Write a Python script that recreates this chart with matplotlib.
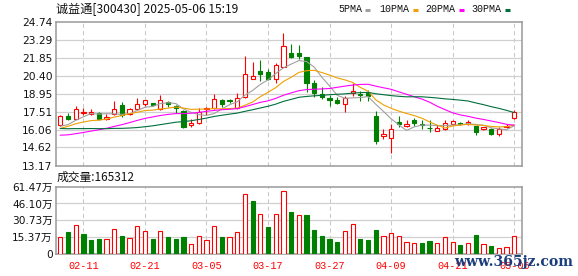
import matplotlib
matplotlib.use('Agg')
import matplotlib.pyplot as plt
from matplotlib.lines import Line2D
import numpy as np
import pandas as pd

# ---------------- data ----------------
dates = ['02-06', '02-07', '02-10', '02-11', '02-12', '02-13', '02-14', '02-17', '02-18', '02-19',
         '02-20', '02-21', '02-24', '02-25', '02-26', '02-27', '02-28', '03-03', '03-04', '03-05',
         '03-06', '03-07', '03-10', '03-11', '03-12', '03-13', '03-14', '03-17', '03-18', '03-19',
         '03-20', '03-21', '03-24', '03-25', '03-26', '03-27', '03-28', '03-31', '04-01', '04-02',
         '04-03', '04-07', '04-08', '04-09', '04-10', '04-11', '04-14', '04-15', '04-16', '04-17',
         '04-18', '04-21', '04-22', '04-23', '04-24', '04-25', '04-28', '04-29', '04-30', '05-06']

opens = [16.46, 17.19, 16.94, 17.40, 17.35, 17.43, 16.94, 17.35, 18.07, 17.35,
         17.75, 18.15, 18.18, 17.75, 18.26, 17.99, 17.54, 16.41, 16.59, 17.70,
         17.83, 18.42, 18.45, 17.83, 18.69, 20.14, 20.79, 20.71, 20.12, 21.11,
         22.19, 22.19, 21.87, 19.82, 18.91, 18.59, 18.43, 18.10, 18.97, 18.95,
         18.98, 17.18, 15.53, 15.40, 16.68, 16.36, 16.87, 16.50, 16.20, 15.98,
         16.07, 16.49, 16.62, 16.49, 16.33, 16.12, 16.07, 15.74, 16.23, 17.00]
highs = [17.20, 17.40, 17.94, 17.81, 17.70, 17.48, 17.32, 18.34, 18.29, 17.83,
         18.64, 18.48, 18.23, 18.88, 18.37, 18.07, 17.62, 16.94, 17.83, 17.89,
         18.96, 18.50, 18.56, 19.01, 21.97, 21.49, 21.65, 20.90, 21.41, 23.80,
         22.94, 22.86, 21.90, 20.04, 19.45, 18.83, 18.69, 18.77, 19.77, 19.18,
         19.23, 17.54, 16.11, 16.49, 17.14, 16.82, 17.00, 16.87, 16.87, 16.41,
         16.87, 16.82, 16.65, 16.87, 16.33, 16.25, 16.20, 16.23, 16.47, 17.62]
lows = [16.38, 16.81, 16.89, 17.21, 17.24, 16.86, 16.86, 17.27, 17.11, 17.27,
        17.67, 17.94, 17.99, 17.67, 17.89, 17.40, 16.22, 16.27, 16.54, 17.21,
        17.75, 17.89, 18.21, 17.75, 18.64, 20.09, 19.95, 20.04, 19.77, 21.06,
        21.79, 21.71, 19.10, 18.69, 18.56, 17.94, 18.10, 17.48, 18.75, 18.37,
        18.37, 14.94, 15.34, 14.21, 16.28, 16.23, 16.33, 16.07, 15.88, 15.93,
        16.01, 16.41, 16.41, 16.44, 15.61, 16.00, 15.61, 15.53, 16.20, 16.95]
closes = [17.13, 16.94, 17.75, 17.48, 17.45, 16.92, 17.08, 17.70, 17.27, 17.75,
          18.15, 18.40, 18.05, 18.40, 18.10, 17.83, 16.27, 16.62, 17.48, 17.81,
          18.56, 18.10, 18.37, 18.64, 20.52, 20.41, 20.57, 20.14, 21.22, 22.78,
          21.92, 22.00, 19.77, 18.97, 18.69, 18.43, 18.21, 18.59, 19.13, 18.85,
          18.80, 15.12, 15.74, 16.13, 16.47, 16.50, 16.55, 16.45, 16.15, 16.22,
          16.55, 16.76, 16.50, 16.68, 15.87, 16.23, 15.74, 16.07, 16.33, 17.48]
# closes of the 29 sessions before the window (needed for the moving averages)
prior_closes = [17.6, 17.4, 17.5, 17.3, 17.2, 17.1, 17.0, 17.2, 17.0, 17.0,
                16.4, 15.9, 15.5, 15.2, 14.9, 14.7, 14.6, 14.5, 14.4, 14.6,
                15.2, 15.7, 16.1, 16.3, 16.55, 16.3, 16.0, 16.1, 16.12]
# volume in 万 shares
volumes = [15.6, 20.5, 26.6, 18.6, 13.1, 14.1, 14.1, 22.9, 16.8, 14.7,
           26.0, 21.1, 14.1, 21.1, 15.9, 14.1, 15.9, 9.5, 16.5, 13.1,
           25.7, 15.9, 15.9, 20.2, 55.0, 48.0, 36.7, 25.1, 36.7, 57.8,
           38.8, 35.8, 35.8, 22.3, 16.8, 14.1, 11.3, 21.1, 27.5, 14.1,
           13.1, 22.3, 16.8, 19.3, 16.8, 11.3, 10.4, 10.4, 12.2, 10.4,
           15.6, 11.3, 8.6, 10.4, 17.7, 9.5, 7.6, 5.5, 6.4, 16.5312]

price_ticks = [13.17, 14.62, 16.06, 17.51, 18.95, 20.40, 21.85, 23.29, 24.74]
price_labels = ['13.17', '14.62', '16.06', '17.51', '18.95', '20.40', '21.85', '23.29', '24.74']
vol_ticks = [0, 15.37, 30.73, 46.10, 61.47]
vol_labels = ['0', '15.37万', '30.73万', '46.10万', '61.47万']
ma_periods = [5, 10, 20, 30]
ma_names = ['5PMA', '10PMA', '20PMA', '30PMA']
tick_idx = [3, 11, 19, 27, 35, 43, 51, 59]
title = '诚益通[300430] 2025-05-06 15:19'
vol_title = '成交量:165312'

# ---------------- style ----------------
RED = '#ff0000'
GREEN = '#008000'
MA_COLORS = ['#a0a0a0', '#f0a000', '#ff00ff', '#006f3c']
FRAME = '#999999'
GRID = '#d0d0d0'
VGRID = '#c8c8c8'
W, H = 578, 276

o = np.array(opens); h = np.array(highs); l = np.array(lows); c = np.array(closes)
v = np.array(volumes)
n = len(c)
x = np.arange(n)

fig = plt.figure(figsize=(W / 100, H / 100), dpi=100)
fig.patch.set_facecolor('white')

def fx(px):
    return px / W

def fy(py):
    return 1 - py / H

ax = fig.add_axes([fx(55.7), fy(165.5), fx(522.3) - fx(55.7), fy(21.7) - fy(165.5)])
axv = fig.add_axes([fx(55.7), fy(254.3), fx(522.3) - fx(55.7), fy(186.5) - fy(254.3)])

for a in (ax, axv):
    a.set_xlim(-0.6, 60.05)
    for s in a.spines.values():
        s.set_color(FRAME)
        s.set_linewidth(1.1)
    a.set_axisbelow(True)
    for t in tick_idx:
        a.axvline(t, color=VGRID, lw=0.75, ls=(0, (4, 3)), zorder=0)

# ---- price panel ----
ax.set_ylim(price_ticks[0], price_ticks[-1])
ax.set_yticks(price_ticks)
ax.set_yticklabels(price_labels)
for yv in price_ticks[1:-1]:
    ax.axhline(yv, color=GRID, lw=0.9, zorder=0)
ax.set_xticks([])
ax.tick_params(axis='y', length=0, pad=2.2, labelsize=7.7, labelcolor='#111111')

up = c >= o
body_lo = np.minimum(o, c)
body_hi = np.maximum(o, c)
body_h = np.maximum(body_hi - body_lo, 0.03)
cols = np.where(up, RED, GREEN)

ax.vlines(x, body_hi, h, colors=cols, lw=0.8, zorder=2)
ax.vlines(x, l, body_lo, colors=cols, lw=0.8, zorder=2)
ax.bar(x[up], body_h[up], bottom=body_lo[up], width=0.55, facecolor='white',
       edgecolor=RED, linewidth=0.8, zorder=3)
ax.bar(x[~up], body_h[~up], bottom=body_lo[~up], width=0.55, facecolor=GREEN,
       edgecolor=GREEN, linewidth=0.8, zorder=3)

all_closes = pd.Series(prior_closes + closes)
for p, col in zip(ma_periods, MA_COLORS):
    ma = all_closes.rolling(p).mean().iloc[len(prior_closes):].to_numpy()
    ax.plot(x, ma, color=col, lw=0.8, zorder=4)

# ---- volume panel ----
axv.set_ylim(0, vol_ticks[-1])
axv.set_yticks(vol_ticks)
axv.set_yticklabels(vol_labels, family=['DejaVu Sans', 'Noto Sans CJK SC'])
for yv in vol_ticks[1:-1]:
    axv.axhline(yv, color=GRID, lw=0.9, zorder=0)
axv.tick_params(axis='y', length=0, pad=2.2, labelsize=7.6, labelcolor='#111111')
axv.set_xticks(tick_idx)
axv.set_xticklabels([dates[i] for i in tick_idx], family='Liberation Mono',
                    fontsize=7.3, color=RED)
axv.tick_params(axis='x', length=0, pad=4.5)

prev = np.concatenate([[prior_closes[-1]], c[:-1]])
vup = c >= prev
axv.bar(x[vup], v[vup], width=0.55, facecolor='white', edgecolor=RED, linewidth=0.8, zorder=3)
axv.bar(x[~vup], v[~vup], width=0.55, facecolor=GREEN, edgecolor=GREEN, linewidth=0.8, zorder=3)

# ---- texts ----
fig.text(fx(55.5), fy(9), title, family=['Noto Sans CJK SC', 'DejaVu Sans'], fontsize=8.7,
         color='#111111', va='center', ha='left')
fig.text(fx(57), fy(177.5), vol_title, family=['Noto Sans CJK SC', 'DejaVu Sans'], fontsize=8.5,
         color='#111111', va='center', ha='left')

leg_text_x = [338.7, 379.7, 425.3, 471.3]
leg_dash_x = [(364.7, 369.9), (413.0, 418.0), (459.0, 464.0), (505.3, 510.0)]
for name, tx, (d0, d1), col in zip(ma_names, leg_text_x, leg_dash_x, MA_COLORS):
    fig.text(fx(tx), fy(9.3), name, family='Liberation Mono', fontsize=7.2,
             color='#111111', va='center', ha='left')
    fig.add_artist(Line2D([fx(d0), fx(d1)], [fy(9.5), fy(9.5)], color=col, lw=2.2,
                          solid_capstyle='butt', transform=fig.transFigure))

fig.text(fx(454), fy(262), 'www.365jz.com', family='DejaVu Serif', fontweight='bold',
         fontsize=10.1, color='#1c3d7c', va='center', ha='left')

fig.savefig('out.png', dpi=100, facecolor='white')
